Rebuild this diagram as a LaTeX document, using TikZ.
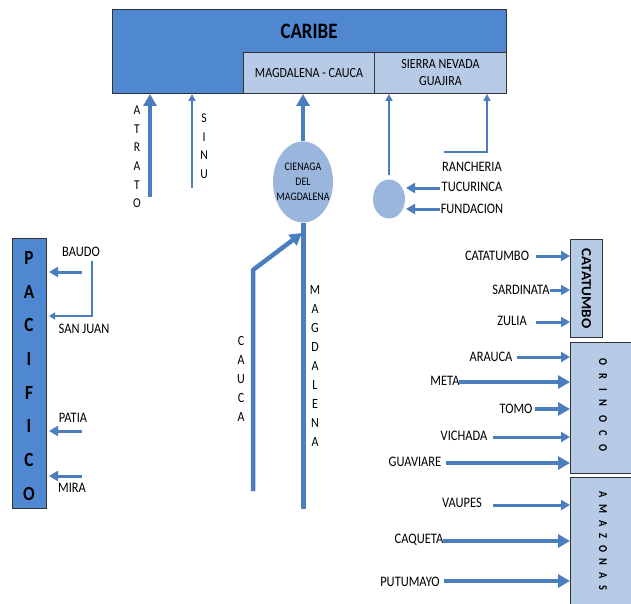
\documentclass[tikz,border=0pt]{standalone}
\usepackage{fontspec}
\setmainfont{Carlito}[FakeStretch=0.86]
\newfontfamily\widefont{Carlito}[FakeStretch=1.08]
\usetikzlibrary{arrows.meta,shapes.geometric}

\definecolor{seablue}{HTML}{4F87D0}
\definecolor{paleblue}{HTML}{B7CBE6}
\definecolor{lakeblue}{HTML}{9AB6DC}
\definecolor{riverblue}{HTML}{4A7EBF}

\tikzset{
	basin/.style={draw=black!80, line width=1pt, fill=seablue, inner sep=0pt, anchor=north west},
	subbasin/.style={draw=black!80, line width=1pt, fill=paleblue, inner sep=0pt, anchor=north west},
	thinriver/.style={riverblue, line width=1.8pt, -{Triangle[length=7pt,width=7pt]}},
	river/.style={riverblue, line width=3pt, -{Triangle[length=9pt,width=10pt]}},
	bigriver/.style={riverblue, line width=4.5pt, -{Triangle[length=12pt,width=13pt]}},
	lbl/.style={font=\fontsize{14.5}{16}\selectfont, inner sep=0pt},
	letters/.style={font=\fontsize{13.5}{18.6}\selectfont, align=center, inner sep=0pt},
	lake/.style={ellipse, fill=lakeblue, inner sep=0pt},
}

\begin{document}
\begin{tikzpicture}[x=1pt,y=-1pt]
\useasboundingbox (0,0) rectangle (631,604);

% cuencas
\node[basin, minimum width=394pt, minimum height=84pt] (caribe) at (112,9) {};
\node[font=\bfseries\fontsize{22}{24}\selectfont] (caribet) at (309,31) {CARIBE};
\node[subbasin, minimum width=131pt, minimum height=41pt] (magcau) at (243,52) {};
\node[font=\fontsize{14}{16}\selectfont] at (magcau) {MAGDALENA - CAUCA};
\node[subbasin, minimum width=132pt, minimum height=41pt] (sierra) at (374,52) {};
\node[font=\fontsize{14}{17}\selectfont, align=center] at (sierra) {SIERRA NEVADA\\GUAJIRA};
\node[basin, minimum width=34pt, minimum height=270pt] (pacifico) at (12,238) {};
\node[font=\bfseries\fontsize{20}{33.7}\selectfont, align=center] at (29,376) {P\\A\\C\\I\\F\\I\\C\\O};
\node[subbasin, minimum width=32pt, minimum height=98pt] (catbox) at (570,239) {};
\node[font=\widefont\bfseries\fontsize{14}{16}\selectfont, rotate=-90] at (catbox) {CATATUMBO};
\node[subbasin, minimum width=70pt, minimum height=131pt] (orinoco) at (570,342) {};
\node[font=\bfseries\fontsize{12}{13}\selectfont, rotate=-90] at (603,405) {O\;\;\,R\;\;\,I\;\;\,N\;\;\,O\;\;\,C\;\;\,O};
\node[subbasin, minimum width=70pt, minimum height=140pt] (amazonas) at (570,477) {};
\node[font=\bfseries\fontsize{12}{13}\selectfont, rotate=-90] at (603,541) {A\;\;M\;\;A\;\;Z\;\;O\;\;N\;\;A\;\;S};

% cienagas
\node[lake, minimum width=60pt, minimum height=81pt] (cienaga) at (303,182) {};
\node[font=\fontsize{11.5}{15}\selectfont, align=center] at (303,182) {CIENAGA\\DEL\\MAGDALENA};
\node[lake, minimum width=32pt, minimum height=39pt] (circ) at (389,199) {};

% caribe
\coordinate (atratos) at (150,197);
\coordinate (sinus) at (192,188);
\node[letters] (atrato) at (137,157) {A\\T\\R\\A\\T\\O};
\node[letters] (sinu) at (204,146) {S\\I\\N\\U};
\draw[bigriver] (atratos) -- (atratos |- caribe.south);
\draw[thinriver] (sinus) -- (sinus |- caribe.south);
\draw[bigriver] (cienaga.north) -- (cienaga.north |- caribe.south);
\draw[thinriver] (circ.north) ++(0,-4) -- (389,94);
\node[lbl] (rancheria) at (472,167) {RANCHERIA};
\node[lbl] (tucurinca) at (472,187) {TUCURINCA};
\node[lbl] (fundacion) at (472,209) {FUNDACION};
\coordinate (ranch1) at (444,152);
\coordinate (ranch2) at (487,152);
\draw[thinriver] (ranch1) -- (ranch2) -- (487,94);
\draw[river] (440,188) -- (406,188);
\draw[river] (440,209) -- (406,209);

% magdalena - cauca
\coordinate (magdas) at (303,509);
\coordinate (caucas) at (253,491);
\coordinate (caucab) at (253,270);
\coordinate (caucae) at (302,233);
\draw[riverblue, line width=5pt] (magdas) -- (cienaga.south);
\draw[riverblue, line width=4.5pt, -{Triangle[length=12pt,width=13pt]}, line join=round] (caucas) -- (caucab) -- (caucae);
\node[letters, font=\fontsize{14}{19}\selectfont] (cauca) at (241,379) {C\\A\\U\\C\\A};
\node[letters, font=\fontsize{14}{18.9}\selectfont] (magda) at (315,366) {M\\A\\G\\D\\A\\L\\E\\N\\A};

% pacifico
\node[lbl] (baudo) at (81,252) {BAUDO};
\node[lbl] (sanjuan) at (84,329) {SAN JUAN};
\node[lbl] (patia) at (73,418) {PATIA};
\node[lbl] (mira) at (72,488) {MIRA};
\draw[river] (82,272) -- (49,272);
\draw[riverblue, line width=1.8pt, -{Triangle[length=6pt,width=7pt]}] (92,261) -- (92,316) -- (49,316);
\draw[river] (82,431) -- (49,431);
\draw[river] (82,476) -- (49,476);

% catatumbo
\node[lbl] (catatumbo) at (497,256) {CATATUMBO};
\node[lbl] (sardinata) at (521,290) {SARDINATA};
\node[lbl] (zulia) at (512,321) {ZULIA};
\draw[river] (536,256) -- (catbox.west |- 0,256);
\draw[river] (550,290) -- (catbox.west |- 0,290);
\draw[river] (536,322) -- (catbox.west |- 0,322);

% orinoco
\node[lbl] (arauca) at (491,357) {ARAUCA};
\node[lbl] (meta) at (445,381) {META};
\node[lbl] (tomo) at (516,409) {TOMO};
\node[lbl] (vichada) at (464,436) {VICHADA};
\node[lbl] (guaviare) at (415,462) {GUAVIARE};
\draw[river] (517,357) -- (orinoco.west |- 0,357);
\draw[bigriver] (459,382) -- (orinoco.west |- 0,382);
\draw[bigriver] (535,409) -- (orinoco.west |- 0,409);
\draw[river] (493,437) -- (orinoco.west |- 0,437);
\draw[bigriver] (446,463) -- (orinoco.west |- 0,463);

% amazonas
\node[lbl] (vaupes) at (462,503) {VAUPES};
\node[lbl] (caqueta) at (419,540) {CAQUETA};
\node[lbl] (putumayo) at (410,582) {PUTUMAYO};
\draw[river] (493,505) -- (amazonas.west |- 0,505);
\draw[bigriver] (443,541) -- (amazonas.west |- 0,541);
\draw[bigriver] (444,581) -- (amazonas.west |- 0,581);
\end{tikzpicture}
\end{document}
